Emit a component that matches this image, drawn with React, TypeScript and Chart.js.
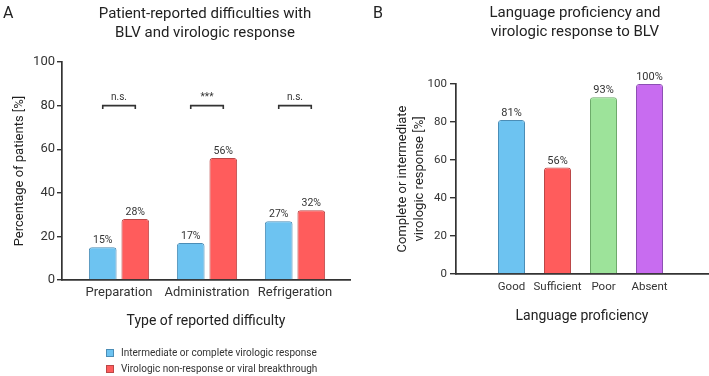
import React, { useEffect, useRef } from "react";
import { Chart, registerables } from "chart.js";

Chart.register(...registerables);

// ---- Panel A: patient-reported difficulties ----
const difficultyTypes = ["Preparation", "Administration", "Refrigeration"];
const respondersPct = [15, 17, 27];
const nonRespondersPct = [28, 56, 32];
const significanceMarks = ["n.s.", "***", "n.s."];
const bracketLevel = 80;
const seriesNames = [
  "Intermediate or complete virologic response",
  "Virologic non-response or viral breakthrough",
];

// ---- Panel B: language proficiency ----
const proficiencyLevels = ["Good", "Sufficient", "Poor", "Absent"];
const responsePct = [81, 56, 93, 100];

const FONT = "Roboto";
const TEXT = "#333333";
const AXIS = "#333333";

const BLUE = "#6DC3F1";
const BLUE_EDGE = "#4B8DB6";
const RED = "#FF5C5C";
const RED_EDGE = "#BB4747";
const GREEN = "#9DE39A";
const GREEN_EDGE = "#6DAA6A";
const PURPLE = "#C86CF0";
const PURPLE_EDGE = "#8C4FB3";

Chart.defaults.font.family = FONT;
Chart.defaults.color = TEXT;

type Header = {
  letter: string;
  letterX: number;
  lines: string[];
  centerX: number;
  baselines: number[];
};

const headerPlugin = (h: Header) => ({
  id: "panelHeader",
  afterDraw(chart: any) {
    const ctx = chart.ctx;
    ctx.save();
    ctx.fillStyle = "#222";
    ctx.textBaseline = "alphabetic";
    ctx.font = `16px ${FONT}`;
    ctx.textAlign = "left";
    ctx.fillText(h.letter, h.letterX, 18);
    ctx.font = `15px ${FONT}`;
    ctx.textAlign = "center";
    h.lines.forEach((t, i) => ctx.fillText(t, h.centerX, h.baselines[i]));
    ctx.restore();
  },
});

const valueLabelPlugin = (size: number) => ({
  id: "valueLabels",
  afterDatasetsDraw(chart: any) {
    const ctx = chart.ctx;
    ctx.save();
    ctx.font = `${size}px ${FONT}`;
    ctx.fillStyle = TEXT;
    ctx.textAlign = "center";
    ctx.textBaseline = "alphabetic";
    chart.data.datasets.forEach((ds: any, di: number) => {
      const meta = chart.getDatasetMeta(di);
      meta.data.forEach((el: any, i: number) => {
        const v = ds.data[i].y;
        ctx.fillText(`${v}%`, el.x, el.y - 4);
      });
    });
    ctx.restore();
  },
});

const bracketPlugin = {
  id: "significance",
  afterDatasetsDraw(chart: any) {
    const ctx = chart.ctx;
    const y = chart.scales.y.getPixelForValue(bracketLevel);
    const a = chart.getDatasetMeta(0).data;
    const b = chart.getDatasetMeta(1).data;
    ctx.save();
    ctx.strokeStyle = AXIS;
    ctx.lineWidth = 1.6;
    ctx.fillStyle = TEXT;
    ctx.font = `10px ${FONT}`;
    ctx.textAlign = "center";
    ctx.textBaseline = "alphabetic";
    significanceMarks.forEach((s, i) => {
      const x1 = a[i].x;
      const x2 = b[i].x;
      ctx.beginPath();
      ctx.moveTo(x1, y + 3.5);
      ctx.lineTo(x1, y);
      ctx.lineTo(x2, y);
      ctx.lineTo(x2, y + 3.5);
      ctx.stroke();
      ctx.fillText(s, (x1 + x2) / 2, y - 6);
    });
    ctx.restore();
  },
};

const legendPlugin = {
  id: "stackedLegend",
  afterDraw(chart: any) {
    const ctx = chart.ctx;
    ctx.save();
    ctx.font = `10px ${FONT}`;
    ctx.textAlign = "left";
    ctx.textBaseline = "middle";
    chart.data.datasets.forEach((ds: any, i: number) => {
      const cy = 353 + i * 16;
      ctx.fillStyle = ds.backgroundColor;
      ctx.fillRect(106.5, cy - 3.5, 7, 7);
      ctx.strokeStyle = ds.borderColor;
      ctx.lineWidth = 1;
      ctx.strokeRect(106.5, cy - 3.5, 7, 7);
      ctx.fillStyle = TEXT;
      ctx.fillText(ds.label, 121, cy);
    });
    ctx.restore();
  },
};

function PanelA() {
  const ref = useRef<HTMLCanvasElement | null>(null);
  useEffect(() => {
    if (!ref.current) return;
    const chart = new Chart(ref.current, {
      type: "bar",
      data: {
        datasets: [
          {
            label: seriesNames[0],
            data: respondersPct.map((v, i) => ({ x: i + 1, y: v })),
            backgroundColor: BLUE,
            borderColor: BLUE_EDGE,
            borderWidth: 1,
            borderRadius: 3,
            barPercentage: 0.85,
            categoryPercentage: 0.74,
          },
          {
            label: seriesNames[1],
            data: nonRespondersPct.map((v, i) => ({ x: i + 1, y: v })),
            backgroundColor: RED,
            borderColor: RED_EDGE,
            borderWidth: 1,
            borderRadius: 3,
            barPercentage: 0.85,
            categoryPercentage: 0.74,
          },
        ],
      } as any,
      options: {
        responsive: false,
        animation: false,
        layout: { padding: { left: 0, right: 10, top: 62, bottom: 0 } },
        plugins: {
          legend: { display: false },
          tooltip: { enabled: false },
          title: { display: false },
        },
        scales: {
          x: {
            type: "linear",
            min: 0.352,
            max: 3.625,
            bounds: "data",
            offset: false,
            afterBuildTicks: (s: any) => {
              s.ticks = difficultyTypes.map((_, i) => ({ value: i + 1 }));
            },
            afterFit: (s: any) => {
              s.height = 96;
            },
            ticks: {
              callback: (v: any) => difficultyTypes[Number(v) - 1] ?? "",
              font: { size: 13 },
              color: TEXT,
              padding: 5,
              autoSkip: false,
              maxRotation: 0,
            },
            grid: { display: false, drawTicks: false },
            border: { display: true, color: AXIS, width: 1.7 },
            title: {
              display: true,
              text: "Type of reported difficulty",
              font: { size: 14 },
              color: "#222",
              padding: { top: 0, bottom: 46 },
            },
          },
          y: {
            min: 0,
            max: 100,
            afterFit: (s: any) => {
              s.width = 62;
            },
            ticks: { stepSize: 20, font: { size: 13 }, color: TEXT, padding: 2 },
            grid: {
              display: true,
              drawOnChartArea: false,
              drawTicks: true,
              tickLength: 5,
              color: AXIS,
              lineWidth: 1.4,
            },
            border: { display: true, color: AXIS, width: 1.7 },
            title: {
              display: true,
              text: "Percentage of patients [%]",
              font: { size: 13 },
              color: "#222",
              padding: { top: 12, bottom: 0 },
            },
          },
        },
      } as any,
      plugins: [
        headerPlugin({
          letter: "A",
          letterX: 3,
          lines: ["Patient-reported difficulties with", "BLV and virologic response"],
          centerX: 205,
          baselines: [18, 37],
        }),
        valueLabelPlugin(10.5),
        bracketPlugin,
        legendPlugin,
      ] as any,
    });
    return () => chart.destroy();
  }, []);
  return (
    <canvas
      ref={ref}
      width={360}
      height={376}
      style={{ position: "absolute", left: 0, top: 0, width: 360, height: 376 }}
    />
  );
}

function PanelB() {
  const ref = useRef<HTMLCanvasElement | null>(null);
  useEffect(() => {
    if (!ref.current) return;
    const chart = new Chart(ref.current, {
      type: "bar",
      data: {
        datasets: [
          {
            label: "Complete or intermediate virologic response",
            data: responsePct.map((v, i) => ({ x: i + 1, y: v })),
            backgroundColor: [BLUE, RED, GREEN, PURPLE],
            borderColor: [BLUE_EDGE, RED_EDGE, GREEN_EDGE, PURPLE_EDGE],
            borderWidth: 1,
            borderRadius: 3,
            barPercentage: 0.587,
            categoryPercentage: 1,
          },
        ],
      } as any,
      options: {
        responsive: false,
        animation: false,
        layout: { padding: { left: 0, right: 1, top: 84, bottom: 0 } },
        plugins: {
          legend: { display: false },
          tooltip: { enabled: false },
          title: { display: false },
        },
        scales: {
          x: {
            type: "linear",
            min: -0.2065,
            max: 5.272,
            bounds: "data",
            offset: false,
            afterBuildTicks: (s: any) => {
              s.ticks = proficiencyLevels.map((_, i) => ({ value: i + 1 }));
            },
            afterFit: (s: any) => {
              s.height = 102;
            },
            ticks: {
              callback: (v: any) => proficiencyLevels[Number(v) - 1] ?? "",
              font: { size: 11.5 },
              color: TEXT,
              padding: 6,
              autoSkip: false,
              maxRotation: 0,
            },
            grid: { display: false, drawTicks: false },
            border: { display: true, color: AXIS, width: 1.7 },
            title: {
              display: true,
              text: "Language proficiency",
              font: { size: 14 },
              color: "#222",
              padding: { top: 0, bottom: 51 },
            },
          },
          y: {
            min: 0,
            max: 100,
            afterFit: (s: any) => {
              s.width = 96;
            },
            ticks: { stepSize: 20, font: { size: 11.5 }, color: TEXT, padding: 3 },
            grid: {
              display: true,
              drawOnChartArea: false,
              drawTicks: true,
              tickLength: 6,
              color: AXIS,
              lineWidth: 1.4,
            },
            border: { display: true, color: AXIS, width: 1.7 },
            title: {
              display: true,
              text: ["Complete or intermediate", "virologic response [%]"],
              font: { size: 13, lineHeight: 1.3 },
              color: "#222",
              padding: { top: 34.5, bottom: 0 },
            },
          },
        },
      } as any,
      plugins: [
        headerPlugin({
          letter: "B",
          letterX: 13,
          lines: ["Language proficiency and", "virologic response to BLV"],
          centerX: 215,
          baselines: [17, 36],
        }),
        valueLabelPlugin(11),
      ] as any,
    });
    return () => chart.destroy();
  }, []);
  return (
    <canvas
      ref={ref}
      width={349}
      height={376}
      style={{ position: "absolute", left: 360, top: 0, width: 349, height: 376 }}
    />
  );
}

export default function App() {
  return (
    <div
      style={{
        position: "absolute",
        left: 0,
        top: 0,
        width: 709,
        height: 376,
        background: "#ffffff",
        overflow: "hidden",
      }}
    >
      <PanelA />
      <PanelB />
    </div>
  );
}
